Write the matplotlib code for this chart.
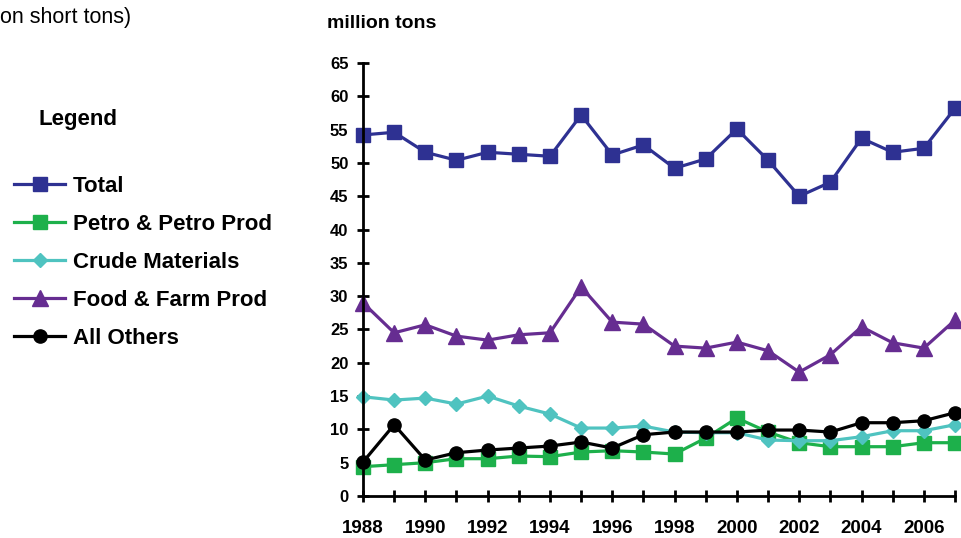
import numpy as np
import matplotlib
matplotlib.use('Agg')
import matplotlib.pyplot as plt

plt.rcParams['font.family'] = ['Liberation Sans', 'DejaVu Sans']

# donnees (millions de tonnes)
annees = list(range(1988, 2008))
total = [54.2, 54.6, 51.6, 50.4, 51.6, 51.3, 51.0, 57.2, 51.2, 52.7,
         49.2, 50.6, 55.1, 50.4, 45.0, 47.1, 53.7, 51.6, 52.2, 58.2]
petro = [4.4, 4.7, 5.0, 5.6, 5.6, 6.0, 5.9, 6.6, 6.8, 6.6,
         6.3, 8.7, 11.7, 9.6, 8.0, 7.4, 7.4, 7.4, 8.0, 8.0]
crude = [14.9, 14.4, 14.7, 13.8, 15.0, 13.5, 12.3, 10.2, 10.2, 10.5,
         9.6, 9.5, 9.5, 8.4, 8.3, 8.3, 8.9, 9.8, 9.8, 10.7]
food = [29.0, 24.5, 25.7, 24.0, 23.4, 24.2, 24.5, 31.4, 26.1, 25.8,
        22.5, 22.2, 23.1, 21.8, 18.6, 21.2, 25.4, 23.0, 22.2, 26.4]
autres = [5.1, 10.7, 5.4, 6.5, 6.9, 7.2, 7.5, 8.1, 7.2, 9.2,
          9.6, 9.6, 9.6, 9.9, 9.9, 9.6, 11.0, 11.0, 11.3, 12.5]

series = [
    ("Total", total, '#2E3192', 's', 9.5),
    ("Petro & Petro Prod", petro, '#1DB04B', 's', 9.5),
    ("Crude Materials", crude, '#4FC3C0', 'D', 7),
    ("Food & Farm Prod", food, '#662D91', '^', 11),
    ("All Others", autres, '#000000', 'o', 9.5),
]

fig = plt.figure(figsize=(9.62, 5.38), dpi=100)
ax = fig.add_axes([363 / 962, 42 / 538, 592 / 962, 433 / 538])

lignes = []
for nom, valeurs, couleur, marqueur, taille in series:
    l, = ax.plot(annees, valeurs, color=couleur, marker=marqueur, markersize=taille,
                 linewidth=2.3, label=nom, clip_on=False)
    lignes.append(l)

ax.set_xlim(1988, 2007)
ax.set_ylim(0, 65)
ax.set_yticks(np.arange(0, 66, 5))
ax.set_xticks(annees)
ax.set_xticklabels([str(a) if a % 2 == 0 else '' for a in annees])
for s in ['top', 'right']:
    ax.spines[s].set_visible(False)
ax.spines['left'].set_linewidth(2)
ax.spines['bottom'].set_linewidth(2)
ax.tick_params(direction='inout', length=9, width=2)
ax.tick_params(axis='y', labelsize=12, pad=6)
ax.tick_params(axis='x', labelsize=13.5, pad=13)
for t in ax.get_xticklabels() + ax.get_yticklabels():
    t.set_fontweight('bold')

fig.text(327 / 962, 1 - 24 / 538, "million tons", fontsize=14, fontweight='bold', va='center')
fig.text(0.5 / 962, 1 - 18 / 538, "on short tons)", fontsize=15.5, ha='left', va='center')
fig.text(38 / 962, 1 - 119 / 538, "Legend", fontsize=16, fontweight='bold', va='center')

leg = fig.legend(handles=lignes, loc='upper left', bbox_to_anchor=(14 / 962, 1 - 176 / 538),
                 frameon=False, fontsize=16, labelspacing=0.76,
                 handlelength=2.3, handletextpad=0.36, borderaxespad=0, borderpad=0)
for t in leg.get_texts():
    t.set_fontweight('bold')

fig.savefig('out.png', dpi=100)
